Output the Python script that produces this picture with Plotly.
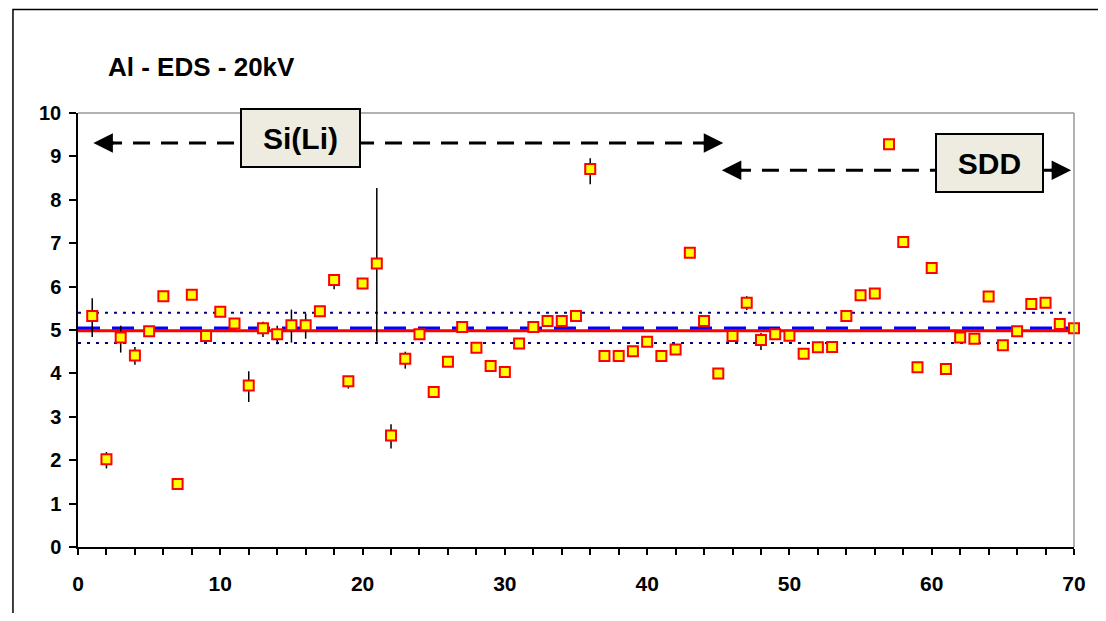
import plotly.graph_objects as go

# ---- data ----
run_index = list(range(1, 71))
al_values = [5.32, 2.02, 4.83, 4.41, 4.97, 5.78, 1.45, 5.81, 4.86, 5.42,
             5.15, 3.72, 5.04, 4.90, 5.11, 5.11, 5.43, 6.15, 3.82, 6.07,
             6.53, 2.57, 4.34, 4.90, 3.57, 4.27, 5.07, 4.59, 4.17, 4.03,
             4.69, 5.07, 5.21, 5.21, 5.32, 8.71, 4.40, 4.40, 4.51, 4.73,
             4.40, 4.55, 6.78, 5.21, 4.00, 4.86, 5.63, 4.77, 4.90, 4.87,
             4.45, 4.60, 4.61, 5.32, 5.80, 5.84, 9.28, 7.03, 4.14, 6.43,
             4.10, 4.83, 4.80, 5.77, 4.65, 4.97, 5.60, 5.63, 5.14, 5.04]
err_plus = [0.41, 0.17, 0.27, 0.20, 0.04, 0.04, 0.03, 0.04, 0.04, 0.08,
            0.04, 0.33, 0.15, 0.20, 0.36, 0.27, 0.08, 0.05, 0.05, 0.04,
            1.74, 0.26, 0.16, 0.04, 0.04, 0.04, 0.04, 0.04, 0.04, 0.04,
            0.04, 0.04, 0.04, 0.04, 0.04, 0.25, 0.04, 0.04, 0.04, 0.04,
            0.04, 0.04, 0.04, 0.04, 0.04, 0.04, 0.15, 0.16, 0.04, 0.04,
            0.04, 0.04, 0.04, 0.04, 0.04, 0.04, 0.04, 0.04, 0.04, 0.04,
            0.04, 0.04, 0.04, 0.04, 0.04, 0.04, 0.04, 0.04, 0.04, 0.04]
err_minus = [0.48, 0.21, 0.35, 0.21, 0.04, 0.04, 0.03, 0.04, 0.04, 0.08,
             0.04, 0.38, 0.20, 0.23, 0.40, 0.31, 0.08, 0.21, 0.17, 0.04,
             1.80, 0.30, 0.23, 0.04, 0.04, 0.04, 0.04, 0.04, 0.04, 0.04,
             0.04, 0.04, 0.04, 0.04, 0.04, 0.35, 0.04, 0.04, 0.04, 0.04,
             0.04, 0.04, 0.04, 0.04, 0.04, 0.04, 0.17, 0.23, 0.04, 0.04,
             0.04, 0.04, 0.04, 0.08, 0.04, 0.04, 0.04, 0.04, 0.04, 0.04,
             0.04, 0.04, 0.04, 0.08, 0.04, 0.04, 0.04, 0.04, 0.04, 0.04]

x_span = [0, 70]
nominal_value = 4.98      # red reference line
mean_value = 5.04         # blue dashed line
band_upper = 5.40         # dotted limits
band_lower = 4.70

x_ticks = [0, 10, 20, 30, 40, 50, 60, 70]
y_ticks = [0, 1, 2, 3, 4, 5, 6, 7, 8, 9, 10]

FONT = "Liberation Sans, Arial, sans-serif"

fig = go.Figure()

# reference lines
fig.add_trace(go.Scatter(x=x_span, y=[mean_value, mean_value], mode="lines",
                         line=dict(color="#0000FF", width=3.5, dash="22px,12px"),
                         hoverinfo="skip", showlegend=False))
fig.add_trace(go.Scatter(x=x_span, y=[nominal_value, nominal_value], mode="lines",
                         line=dict(color="#FF0000", width=3),
                         hoverinfo="skip", showlegend=False))
fig.add_trace(go.Scatter(x=x_span, y=[band_upper, band_upper], mode="lines",
                         line=dict(color="#000080", width=2, dash="3px,6px"),
                         hoverinfo="skip", showlegend=False))
fig.add_trace(go.Scatter(x=x_span, y=[band_lower, band_lower], mode="lines",
                         line=dict(color="#000080", width=2, dash="3px,6px"),
                         hoverinfo="skip", showlegend=False))

# data points
fig.add_trace(go.Scatter(
    x=run_index, y=al_values, mode="markers",
    marker=dict(symbol="square", size=10, color="#FFFF00",
                line=dict(color="#FF0000", width=2)),
    error_y=dict(type="data", symmetric=False, array=err_plus,
                 arrayminus=err_minus, color="#000000", thickness=1.5, width=0),
    showlegend=False, cliponaxis=False))

# dashed arrows (lines) for detector ranges
arrow_style = dict(color="#000000", width=3, dash="17px,11px")
fig.add_shape(type="line", x0=1.9, x1=44.6, y0=9.31, y1=9.31,
              xref="x", yref="y", line=arrow_style, layer="above")
fig.add_shape(type="line", x0=46.1, x1=69.0, y0=8.68, y1=8.68,
              xref="x", yref="y", line=arrow_style, layer="above")

# arrow heads
def head(x_tip, y_tip, ax):
    fig.add_annotation(x=x_tip, y=y_tip, xref="x", yref="y", ax=ax, ay=0,
                       text="", showarrow=True, arrowhead=2, arrowsize=1.3,
                       arrowwidth=3, arrowcolor="#000000", standoff=0)

head(1.08, 9.31, 22)
head(45.35, 9.31, -22)
head(45.25, 8.68, 22)
head(69.8, 8.68, -22)

# labelled boxes
box = dict(xref="x", yref="y", showarrow=False, bgcolor="#EEECE1",
           bordercolor="#000000", borderwidth=2, borderpad=0,
           font=dict(family=FONT, size=30, color="#000000", weight="bold"))
fig.add_annotation(x=15.67, y=9.42, text="Si(Li)", width=117, height=56, **box)
fig.add_annotation(x=64.07, y=8.84, text="SDD", width=105, height=56, **box)

# title
fig.add_annotation(x=0.0281, y=1.106, xref="paper", yref="paper",
                   xanchor="left", yanchor="middle", showarrow=False,
                   text="Al - EDS - 20kV",
                   font=dict(family=FONT, size=26, color="#000000", weight="bold"))

# plot-area border (top and right, grey)
fig.add_shape(type="line", xref="paper", yref="paper", x0=0, x1=1, y0=1, y1=1,
              line=dict(color="#999999", width=1.5))
fig.add_shape(type="line", xref="paper", yref="paper", x0=1, x1=1, y0=0, y1=1,
              line=dict(color="#999999", width=1.5))
# outer chart frame (top edge kept just inside the figure)
fig.add_shape(type="rect", xref="paper", yref="paper",
              x0=-0.0653, x1=1.2, y0=-0.3, y1=1.2385,
              line=dict(color="#000000", width=1.5))

# page body has an 8px margin: size the figure so the plot area lands
# at x 78..1074, y 113..547 of the window
fig.update_layout(
    width=1090, height=605, autosize=False,
    margin=dict(l=70, r=24, t=105, b=66),
    paper_bgcolor="#FFFFFF", plot_bgcolor="#FFFFFF",
    font=dict(family=FONT, color="#000000"),
    xaxis=dict(range=x_span, tickvals=x_ticks, ticks="outside", ticklen=6,
               tickwidth=1.5, tickcolor="#000000",
               showline=True, linecolor="#000000", linewidth=1.5,
               showgrid=False, zeroline=False,
               minor=dict(dtick=2, ticks="outside", ticklen=6, tickwidth=1.5,
                          tickcolor="#000000", showgrid=False),
               tickfont=dict(family=FONT, size=21, color="#000000", weight="bold"),
               ticklabelstandoff=11),
    yaxis=dict(range=[0, 10], tickvals=y_ticks, ticks="outside", ticklen=7,
               tickwidth=1.5, tickcolor="#000000",
               showline=True, linecolor="#000000", linewidth=1.5,
               showgrid=False, zeroline=False,
               tickfont=dict(family=FONT, size=20, color="#000000", weight="bold"),
               ticklabelstandoff=4),
)

fig.write_html("out.html")
